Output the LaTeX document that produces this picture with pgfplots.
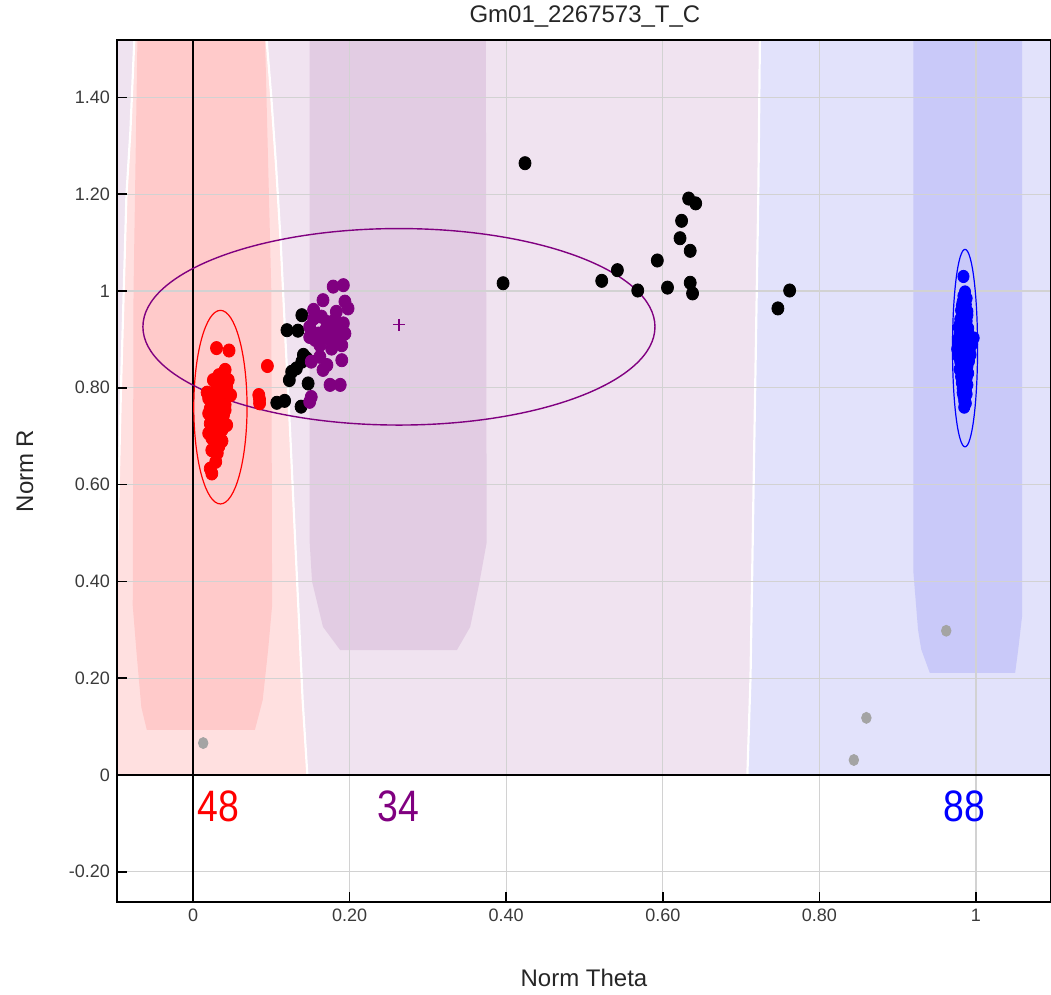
\documentclass[border=0pt]{standalone}
\usepackage{fontspec}
\setmainfont{Liberation Sans}
\newfontfamily\narrowfont[FakeStretch=0.85]{Liberation Sans}
\usepackage{pgfplots}
\pgfplotsset{compat=1.18}
\definecolor{baseL}{HTML}{EFE3F0}
\definecolor{redL}{HTML}{FFE0E0}
\definecolor{redD}{HTML}{FFCACA}
\definecolor{purL}{HTML}{F0E3F0}
\definecolor{purD}{HTML}{E2CCE3}
\definecolor{bluL}{HTML}{E2E2FB}
\definecolor{bluD}{HTML}{C9C9F9}
\definecolor{gridgray}{HTML}{D2D2D2}
\definecolor{ticktext}{HTML}{3A3A3A}
\definecolor{mypurple}{HTML}{800080}
\definecolor{mygray}{HTML}{A4A4A4}
\begin{document}
\begin{tikzpicture}
\begin{axis}[
  set layers=standard,
  scale only axis, width=467pt, height=431pt,
  xmin=-0.0971, xmax=1.0958, ymin=-0.2624, ymax=1.5186,
  xtick={0,0.2,0.4,0.6,0.8,1}, xticklabels={0,0.20,0.40,0.60,0.80,1},
  ytick={-0.2,0,0.2,0.4,0.6,0.8,1,1.2,1.4},
  yticklabels={-0.20,0,0.20,0.40,0.60,0.80,1,1.20,1.40},
  tick pos=left, tick align=inside, major tick length=5pt,
  grid=major, grid style={draw=gridgray, line width=0.6pt},
  axis line style={line width=0.8pt, black},
  tick style={black, line width=0.8pt},
  /pgf/number format/assume math mode=true,
  ticklabel style={font=\fontsize{9}{10}\selectfont, text=ticktext},
  title={Gm01\_2267573\_T\_C},
  title style={at={(axis description cs:0.501,1)}, anchor=base, yshift=2.5pt, font=\fontsize{12}{14}\selectfont, text=black!85},
  xlabel={Norm Theta},
  xlabel style={at={(axis description cs:0.5,-0.0882)}, anchor=center, font=\fontsize{12}{14}\selectfont, text=black!85},
  ylabel={Norm R},
  ylabel style={at={(axis description cs:-0.0985,0.5)}, anchor=center, font=\fontsize{12}{14}\selectfont, text=black!85},
]
% ---- background regions ----
\addplot[fill=baseL, draw=none, on layer=axis background] coordinates {(-0.0971,0) (1.0958,0) (1.0958,1.5186) (-0.0971,1.5186)} -- cycle;
\addplot[fill=purL, draw=none, on layer=axis background] coordinates {(0.094,1.5186) (0.724,1.5186) (0.722,1.2) (0.716,0.6) (0.712,0.2) (0.708,0) (0.146,0) (0.140,0.155) (0.135,0.33) (0.130,0.50) (0.124,0.71) (0.118,0.90) (0.112,1.10) (0.106,1.26) (0.100,1.40)} -- cycle;
\addplot[fill=bluL, draw=none, on layer=axis background] coordinates {(0.724,1.5186) (1.0958,1.5186) (1.0958,0) (0.708,0) (0.712,0.2) (0.716,0.6) (0.722,1.2)} -- cycle;
\addplot[fill=redL, draw=none, on layer=axis background] coordinates {(-0.075,1.5186) (0.094,1.5186) (0.100,1.40) (0.106,1.26) (0.112,1.10) (0.118,0.90) (0.124,0.71) (0.130,0.50) (0.135,0.33) (0.140,0.155) (0.146,0) (-0.0971,0) (-0.0971,0.45) (-0.092,0.8) (-0.085,1.2) (-0.080,1.33)} -- cycle;
\addplot[fill=redD, draw=none, on layer=axis background] coordinates {(-0.071,1.5186) (0.092,1.5186) (0.100,1.0) (0.101,0.35) (0.096,0.26) (0.089,0.155) (0.079,0.093) (-0.059,0.093) (-0.066,0.14) (-0.072,0.25) (-0.077,0.35) (-0.076,1.0)} -- cycle;
\addplot[fill=purD, draw=none, on layer=axis background] coordinates {(0.149,1.5186) (0.374,1.5186) (0.375,0.48) (0.366,0.40) (0.354,0.306) (0.337,0.258) (0.188,0.258) (0.166,0.306) (0.152,0.40) (0.149,0.48)} -- cycle;
\addplot[fill=bluD, draw=none, on layer=axis background] coordinates {(0.920,1.5186) (1.059,1.5186) (1.059,0.33) (1.054,0.26) (1.050,0.211) (0.941,0.211) (0.930,0.26) (0.926,0.30) (0.920,0.42)} -- cycle;
% white boundaries
\addplot[white, line width=1.1pt, on layer=axis background] coordinates {(0.094,1.5186) (0.100,1.40) (0.106,1.26) (0.112,1.10) (0.118,0.90) (0.124,0.71) (0.130,0.50) (0.135,0.33) (0.140,0.155) (0.146,0)};
\addplot[white, line width=1.1pt, on layer=axis background] coordinates {(0.724,1.5186) (0.722,1.2) (0.716,0.6) (0.712,0.2) (0.708,0)};
\addplot[white, line width=1.1pt, on layer=axis background] coordinates {(-0.075,1.5186) (-0.080,1.33) (-0.085,1.2) (-0.092,0.8) (-0.0971,0.45)};
% ---- reference lines ----
\addplot[black, line width=0.8pt] coordinates {(0,-0.2624) (0,1.5186)};
\addplot[black, line width=1.3pt] coordinates {(-0.0971,0) (1.0958,0)};
% ---- ellipses ----
\draw[red, line width=0.6pt] (axis cs:0.035,0.760) ellipse [x radius=0.034, y radius=0.200];
\draw[mypurple, line width=0.7pt] (axis cs:0.263,0.926) ellipse [x radius=0.327, y radius=0.203];
\draw[blue, line width=0.6pt] (axis cs:0.986,0.882) ellipse [x radius=0.016, y radius=0.204];
\addplot[only marks, mark=+, mark size=3pt, color=mypurple, mark options={line width=0.6pt}] coordinates {(0.263,0.930)};
% ---- points ----
\addplot[only marks, mark=*, mark size=2.4pt, color=mygray, mark options={draw=none, fill=mygray, yscale=1.15}] coordinates {
(0.013,0.066) (0.962,0.298) (0.860,0.118) (0.844,0.031)};
\addplot[only marks, mark=*, mark size=3pt, color=black, mark options={draw=none, fill=black, yscale=1.1}] coordinates {
(0.139,0.950) (0.120,0.919) (0.134,0.918) (0.141,0.868) (0.145,0.861) (0.139,0.854) (0.132,0.840) (0.126,0.833) (0.123,0.816) (0.147,0.809) (0.107,0.769) (0.117,0.773) (0.138,0.761)
(0.424,1.264) (0.396,1.016) (0.522,1.021) (0.542,1.043) (0.568,1.001) (0.593,1.063) (0.606,1.007) (0.622,1.109) (0.624,1.145) (0.633,1.191) (0.642,1.181) (0.635,1.083) (0.635,1.017) (0.638,0.995) (0.747,0.964) (0.762,1.001)};
\addplot[only marks, mark=*, mark size=3pt, color=red, mark options={draw=none, fill=red, yscale=1.1}] coordinates {
(0.030,0.882) (0.046,0.877) (0.095,0.845) (0.084,0.785) (0.085,0.768) (0.085,0.776) (0.041,0.837) (0.033,0.826)
(0.039,0.819) (0.026,0.816) (0.045,0.816) (0.033,0.809) (0.043,0.802) (0.039,0.799) (0.029,0.795) (0.018,0.790)
(0.035,0.788) (0.048,0.785) (0.024,0.778) (0.020,0.778) (0.031,0.768) (0.041,0.765) (0.035,0.761) (0.026,0.761)
(0.022,0.757) (0.041,0.754) (0.031,0.747) (0.020,0.747) (0.039,0.744) (0.028,0.740) (0.024,0.733) (0.035,0.726)
(0.022,0.726) (0.043,0.723) (0.026,0.716) (0.037,0.713) (0.031,0.706) (0.020,0.706) (0.024,0.696) (0.037,0.690)
(0.031,0.685) (0.033,0.679) (0.024,0.671) (0.031,0.665) (0.029,0.647) (0.022,0.633) (0.024,0.623) (0.036,0.740)};
\addplot[only marks, mark=*, mark size=3pt, color=mypurple, mark options={draw=none, fill=mypurple, yscale=1.1}] coordinates {
(0.179,1.009) (0.192,1.012) (0.166,0.981) (0.194,0.978) (0.198,0.964) (0.154,0.961) (0.164,0.947) (0.181,0.940)
(0.192,0.933) (0.149,0.926) (0.169,0.919) (0.177,0.922) (0.188,0.916) (0.194,0.912) (0.156,0.899) (0.173,0.902)
(0.184,0.899) (0.162,0.888) (0.177,0.881) (0.190,0.888) (0.151,0.854) (0.190,0.857) (0.171,0.847) (0.166,0.837)
(0.175,0.806) (0.188,0.806) (0.151,0.781) (0.149,0.771) (0.160,0.912) (0.154,0.943) (0.183,0.957) (0.171,0.936)
(0.149,0.905) (0.162,0.864)};
\addplot[only marks, mark=*, mark size=2.8pt, color=blue, mark options={draw=none, fill=blue, yscale=1.1}] coordinates {
(0.984,1.030)
(0.986,0.998) (0.984,0.990) (0.988,0.985) (0.983,0.978) (0.987,0.972) (0.985,0.965) (0.981,0.960) (0.989,0.958) (0.984,0.952) (0.986,0.946)
(0.980,0.942) (0.988,0.938) (0.983,0.933) (0.985,0.928) (0.978,0.925) (0.990,0.923) (0.982,0.918) (0.986,0.914) (0.979,0.910) (0.988,0.907)
(0.984,0.903) (0.977,0.900) (0.990,0.898) (0.982,0.895) (0.986,0.892) (0.980,0.888) (0.988,0.885) (0.983,0.882) (0.976,0.880) (0.992,0.878)
(0.985,0.875) (0.980,0.872) (0.989,0.870) (0.983,0.867) (0.978,0.864) (0.987,0.862) (0.984,0.858) (0.991,0.855) (0.980,0.853) (0.986,0.850)
(0.982,0.847) (0.989,0.844) (0.985,0.841) (0.979,0.838) (0.987,0.835) (0.983,0.832) (0.990,0.830) (0.985,0.826) (0.981,0.823) (0.988,0.820)
(0.984,0.817) (0.986,0.813) (0.982,0.810) (0.989,0.806) (0.985,0.803) (0.983,0.799) (0.987,0.795) (0.985,0.791) (0.988,0.787) (0.984,0.783)
(0.986,0.778) (0.985,0.773) (0.987,0.768) (0.997,0.903) (0.995,0.890) (0.979,0.930) (0.990,0.913) (0.981,0.905) (0.993,0.868) (0.978,0.890)
(0.987,0.925) (0.983,0.943) (0.989,0.950) (0.982,0.970) (0.986,0.982) (0.985,0.935) (0.984,0.896) (0.987,0.877) (0.982,0.860) (0.988,0.842)
(0.984,0.828) (0.986,0.808) (0.983,0.790) (0.985,0.760) (0.987,0.918) (0.981,0.880) (0.989,0.893)};
% ---- cluster counts ----
\node[text=red, font=\narrowfont\fontsize{22}{24}\selectfont] at (axis cs:0.032,-0.064) {48};
\node[text=mypurple, font=\narrowfont\fontsize{22}{24}\selectfont] at (axis cs:0.262,-0.064) {34};
\node[text=blue, font=\narrowfont\fontsize{22}{24}\selectfont] at (axis cs:0.985,-0.064) {88};
\coordinate (SW) at (rel axis cs:0,0);
\end{axis}
\pgfresetboundingbox
\path ([shift={(-58.5pt,-46.5pt)}]SW) rectangle ([shift={(467pt,451pt)}]SW);
\end{tikzpicture}
\end{document}
